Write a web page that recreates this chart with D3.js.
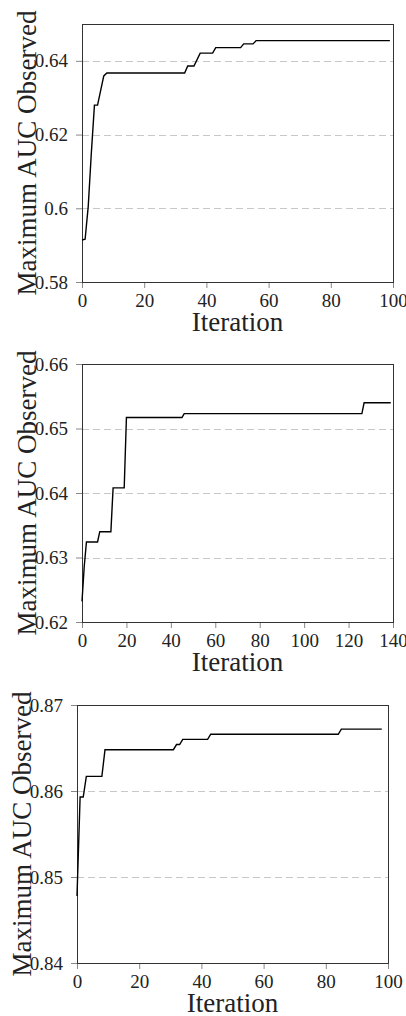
<!DOCTYPE html>
<html>
<head>
<meta charset="utf-8">
<script src="https://cdn.jsdelivr.net/npm/d3@7"></script>
<style>
  body { margin: 0; background: #fff; }
  svg { display: block; }
  text { font-family: "Liberation Serif", "Times New Roman", serif; fill: #222; }
</style>
</head>
<body>
<svg width="406" height="1016"></svg>
<script>
'use strict';

// corner points of each running-max curve: [iteration, max AUC]
var iters1 = [0, 1, 2, 3, 4, 5, 7, 8, 33, 34, 36, 38, 42, 43, 51, 52, 55, 56, 99];
var auc1 = [0.5914, 0.5916, 0.6005, 0.6150, 0.6280, 0.6280, 0.6359, 0.6367, 0.6367, 0.6386,
  0.6386, 0.6421, 0.6421, 0.6436, 0.6436, 0.6446, 0.6446, 0.6455, 0.6455];

var iters2 = [0, 1, 2, 7, 8, 13, 14, 19, 20, 45, 46, 126, 127, 139];
var auc2 = [0.6232, 0.6286, 0.6324, 0.6324, 0.6340, 0.6340, 0.6408, 0.6408, 0.6517, 0.6517,
  0.6523, 0.6523, 0.6540, 0.6540];

var iters3 = [0, 1, 2, 3, 8, 9, 31, 32, 33, 34, 42, 43, 84, 85, 98];
var auc3 = [0.8478, 0.8593, 0.8593, 0.8617, 0.8617, 0.8648, 0.8648, 0.8654, 0.8654, 0.8660,
  0.8660, 0.8666, 0.8666, 0.8672, 0.8672];

var xTicks1 = [0, 20, 40, 60, 80, 100];
var xTicks2 = [0, 20, 40, 60, 80, 100, 120, 140];
var xTicks3 = [0, 20, 40, 60, 80, 100];
var yTicks1 = [0.58, 0.6, 0.62, 0.64];
var yTicks2 = [0.62, 0.63, 0.64, 0.65, 0.66];
var yTicks3 = [0.84, 0.85, 0.86, 0.87];

var xLabel = 'Iteration';
var yLabel = 'Maximum AUC Observed';

var panels = [
  { xs: iters1, ys: auc1, xDom: [0, 100], yDom: [0.58, 0.65], xt: xTicks1, yt: yTicks1,
    left: 82, top: 24 },
  { xs: iters2, ys: auc2, xDom: [0, 140], yDom: [0.62, 0.66], xt: xTicks2, yt: yTicks2,
    left: 82, top: 364 },
  { xs: iters3, ys: auc3, xDom: [0, 100], yDom: [0.84, 0.87], xt: xTicks3, yt: yTicks3,
    left: 77, top: 705 }
];

var W = 311, H = 258;
var svg = d3.select('svg');
var fmt = function (d) { return String(+d.toFixed(2)); };

panels.forEach(function (p) {
  var g = svg.append('g').attr('transform', 'translate(' + p.left + ',' + p.top + ')');
  var x = d3.scaleLinear().domain(p.xDom).range([0, W]);
  var y = d3.scaleLinear().domain(p.yDom).range([H, 0]);

  // dashed horizontal grid
  g.append('g').selectAll('line')
    .data(p.yt)
    .enter().append('line')
    .attr('x1', 0).attr('x2', W)
    .attr('y1', function (d) { return Math.round(y(d)) + 0.5; })
    .attr('y2', function (d) { return Math.round(y(d)) + 0.5; })
    .attr('stroke', '#c8c8c8')
    .attr('stroke-dasharray', '7,4');

  var ya = g.append('g')
    .call(d3.axisLeft(y).tickValues(p.yt).tickFormat(fmt).tickSize(6).tickPadding(8));
  var xa = g.append('g').attr('transform', 'translate(0,' + H + ')')
    .call(d3.axisBottom(x).tickValues(p.xt).tickSize(6).tickPadding(6));
  [ya, xa].forEach(function (a) {
    a.select('.domain').remove();
    a.selectAll('line').attr('stroke', '#888');
    a.selectAll('text').attr('font-size', 19)
      .attr('font-family', '"Liberation Serif", serif').attr('fill', '#222');
  });

  // frame
  g.append('rect')
    .attr('x', 0.5).attr('y', 0.5).attr('width', W).attr('height', H)
    .attr('fill', 'none').attr('stroke', '#333').attr('stroke-width', 1);

  var line = d3.line()
    .x(function (d, i) { return x(p.xs[i]); })
    .y(function (d) { return y(d); });
  g.append('path')
    .attr('d', line(p.ys))
    .attr('fill', 'none').attr('stroke', '#000').attr('stroke-width', 1.4);

  g.append('text')
    .attr('x', W / 2).attr('y', H + 49)
    .attr('text-anchor', 'middle').attr('font-size', 27)
    .text(xLabel);

  g.append('text')
    .attr('transform', 'translate(-46,' + (H / 2) + ') rotate(-90)')
    .attr('text-anchor', 'middle').attr('font-size', 27)
    .text(yLabel);
});
</script>
</body>
</html>
